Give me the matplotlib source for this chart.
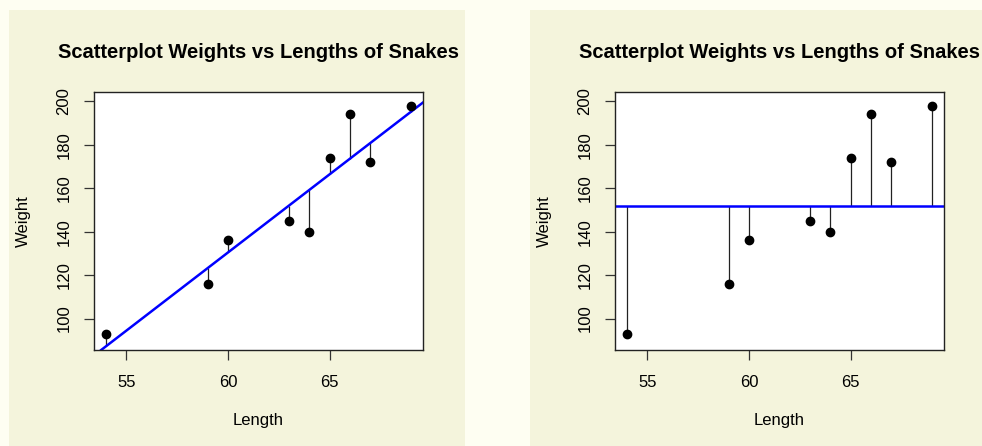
import numpy as np
import matplotlib
matplotlib.use("Agg")
import matplotlib.pyplot as plt
from matplotlib.patches import Rectangle

plt.rcParams['font.family'] = ['Liberation Sans', 'DejaVu Sans']

# snake data
length = [54, 59, 60, 63, 64, 65, 66, 67, 69]
weight = [93, 116, 136, 145, 140, 174, 194, 172, 198]
x_ticks = [55, 60, 65]
y_ticks = [100, 120, 140, 160, 180, 200]
title = "Scatterplot Weights vs Lengths of Snakes"

x = np.array(length, dtype=float)
y = np.array(weight, dtype=float)
slope, intercept = np.polyfit(x, y, 1)
fitted = intercept + slope * x
ybar = y.mean()

W, H = 982, 446
fig = plt.figure(figsize=(W / 100, H / 100), dpi=100)
fig.patch.set_facecolor('#fefef2')

# beige panels behind each plot
fig.patches.append(Rectangle((9 / W, 0), (465 - 9) / W, (H - 10) / H,
                             transform=fig.transFigure, facecolor='#f4f4dc',
                             edgecolor='none', zorder=-5))
fig.patches.append(Rectangle((530 / W, 0), (W - 530) / W, (H - 10) / H,
                             transform=fig.transFigure, facecolor='#f4f4dc',
                             edgecolor='none', zorder=-5))

ax_w = (423 - 94) / W
ax_b = (H - 350) / H
ax_h = (350 - 92) / H
lefts = [94, 615]

for i, left in enumerate(lefts):
    ax = fig.add_axes([left / W, ax_b, ax_w, ax_h])
    ax.set_zorder(2)
    ax.set_facecolor('white')
    if i == 0:
        ax.axline((0, intercept), slope=slope, color='#0000ff', lw=1.8, zorder=2)
        base = fitted
    else:
        ax.axhline(ybar, color='#0000ff', lw=1.8, zorder=2)
        base = np.full_like(y, ybar)
    ax.vlines(x, base, y, color='#222222', lw=0.9, zorder=1)
    ax.plot(x, y, 'o', color='black', ms=6, zorder=3)

    ax.set_xlim(53.4, 69.6)
    ax.set_ylim(85.5, 204.3)
    ax.set_xticks(x_ticks)
    ax.set_yticks(y_ticks)
    ax.tick_params(axis='both', direction='out', length=7.2, width=0.9,
                   color='#333333', labelsize=12)
    ax.tick_params(axis='x', pad=10.5)
    ax.tick_params(axis='y', pad=9, labelrotation=90)
    for lab in ax.get_yticklabels():
        lab.set_va('center')
    for sp in ax.spines.values():
        sp.set_color('#222222')
        sp.set_linewidth(1.0)

    cx = (left + (423 - 94) / 2) / W
    fig.text(cx, 1 - 52 / H, title, ha='center', va='center',
             fontsize=14.5, fontweight='bold', zorder=3)
    fig.text(cx, 1 - 421 / H, "Length", ha='center', va='center',
             fontsize=12, zorder=3)
    fig.text((left - 71) / W, ax_b + ax_h / 2, "Weight", ha='center',
             va='center', rotation=90, fontsize=12, zorder=3)

fig.savefig("out.png", dpi=100, facecolor=fig.get_facecolor())
